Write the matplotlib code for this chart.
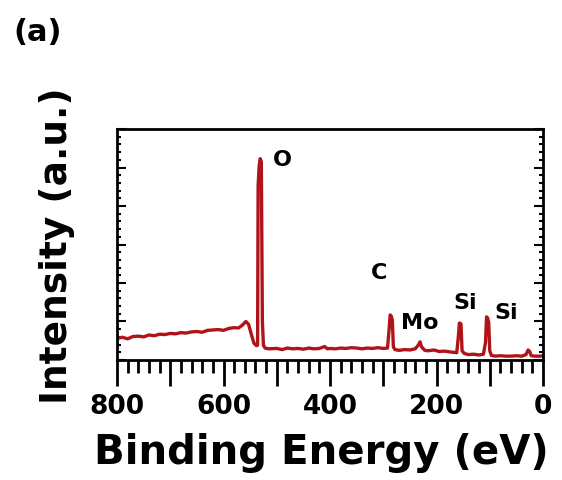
import matplotlib
matplotlib.use('Agg')
import matplotlib.pyplot as plt
from matplotlib.ticker import MultipleLocator, FuncFormatter

# binding energy (eV) and intensity (a.u.)
energy = [800, 790, 780, 770, 760, 750, 740, 730, 720, 710, 700, 690, 680, 670,
          660, 650, 640, 630, 620, 610, 600, 590, 580, 572, 565, 558, 553, 548,
          543, 538, 536, 535, 533, 531, 529, 527, 525, 522, 515, 500, 490, 480,
          470, 460, 450, 440, 430, 420, 410, 405, 400, 390, 380, 370, 360, 350,
          340, 330, 320, 310, 300, 292, 289, 287, 285, 283, 281, 278, 270, 260,
          250, 240, 234, 231, 228, 222, 215, 205, 195, 185, 175, 168, 162, 159,
          157, 154, 152, 148, 140, 130, 120, 112, 108, 106, 104, 102, 100, 97,
          90, 80, 70, 60, 50, 40, 32, 28, 25, 22, 15, 5, 0]
intensity = [0.56, 0.59, 0.55, 0.61, 0.62, 0.60, 0.65, 0.63, 0.67, 0.66, 0.69, 0.68,
             0.71, 0.70, 0.73, 0.74, 0.72, 0.77, 0.78, 0.79, 0.77, 0.82, 0.84, 0.83,
             0.90, 1.00, 0.93, 0.68, 0.44, 0.37, 0.39, 4.53, 5.05, 5.23, 5.15, 1.00,
             0.38, 0.31, 0.29, 0.30, 0.27, 0.31, 0.29, 0.30, 0.28, 0.31, 0.29, 0.30,
             0.35, 0.29, 0.30, 0.29, 0.31, 0.30, 0.32, 0.31, 0.29, 0.31, 0.30, 0.32,
             0.30, 0.31, 0.80, 1.17, 1.14, 1.04, 0.34, 0.27, 0.25, 0.27, 0.26, 0.29,
             0.39, 0.47, 0.34, 0.25, 0.24, 0.26, 0.22, 0.23, 0.21, 0.20, 0.19, 0.60,
             0.96, 0.94, 0.24, 0.17, 0.14, 0.15, 0.13, 0.15, 0.45, 1.12, 1.09, 0.98,
             0.24, 0.12, 0.10, 0.11, 0.10, 0.10, 0.11, 0.10, 0.14, 0.26, 0.22, 0.11,
             0.10, 0.10, 0.11]

peak_names = ['O', 'C', 'Mo', 'Si', 'Si']
peak_x = [489, 307, 231, 147, 70]
peak_y = [5.23, 2.29, 0.99, 1.51, 1.25]

plt.rcParams['font.family'] = 'DejaVu Sans'
plt.rcParams['font.weight'] = 'bold'

fig = plt.figure(figsize=(5.62, 4.81), dpi=100)
ax = fig.add_axes([0.2082, 0.2495, 0.758, 0.4802])

ax.plot(energy, intensity, color='#B01418', linewidth=2.4)

ax.set_xlim(800, 0)
ax.set_ylim(0, 6)

ax.xaxis.set_major_locator(MultipleLocator(100))
ax.xaxis.set_minor_locator(MultipleLocator(20))
ax.xaxis.set_major_formatter(FuncFormatter(lambda v, p: '%d' % v if int(round(v)) % 200 == 0 else ''))
ax.yaxis.set_major_locator(MultipleLocator(1))
ax.yaxis.set_minor_locator(MultipleLocator(0.2))

ax.tick_params(axis='x', which='major', direction='out', length=19, width=2, pad=5,
               top=False, labelsize=19)
ax.tick_params(axis='x', which='minor', direction='out', length=9.5, width=2, top=False)
ax.tick_params(axis='y', which='major', direction='in', length=6.5, width=1.5,
               left=True, right=True, labelleft=False)
ax.tick_params(axis='y', which='minor', direction='in', length=3, width=1.5,
               left=True, right=True)

for sp in ax.spines.values():
    sp.set_linewidth(2)

for name, px, py in zip(peak_names, peak_x, peak_y):
    ax.text(px, py, name, fontsize=16, fontweight='bold', ha='center', va='center')

ax.set_xlabel('Binding Energy (eV)', fontsize=29, fontweight='bold')
ax.xaxis.set_label_coords(0.479, -0.31)
ax.set_ylabel('Intensity (a.u.)', fontsize=27, fontweight='bold', labelpad=27)

fig.text(0.023, 0.962, '(a)', fontsize=22, fontweight='bold', ha='left', va='top')

fig.savefig('out.png', dpi=100)
